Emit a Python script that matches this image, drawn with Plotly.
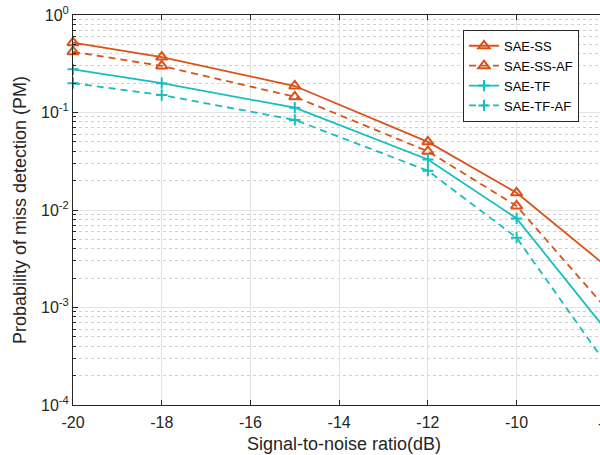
import plotly.graph_objects as go

# SNR points (dB)
snr = [-20, -18, -15, -12, -10, -8]

# Probability of miss detection for each method
pm_sae_ss = [0.52, 0.37, 0.187, 0.050, 0.0150, 0.0027]
pm_sae_ss_af = [0.42, 0.30, 0.145, 0.040, 0.0110, 0.00100]
pm_sae_tf = [0.277, 0.200, 0.112, 0.033, 0.0082, 0.00060]
pm_sae_tf_af = [0.200, 0.151, 0.084, 0.0253, 0.0052, 0.00027]

x_ticks = [-20, -18, -16, -14, -12, -10, -8]
x_ticktext = ["-20", "-18", "-16", "-14", "-12", "-10", "-8"]
y_ticks = [1e-4, 1e-3, 1e-2, 1e-1, 1e0]
y_ticktext = ["10<sup>-4</sup>", "10<sup>-3</sup>", "10<sup>-2</sup>", "10<sup>-1</sup>", "10<sup>0</sup>"]
y_minor = [m * 10 ** e for e in range(-4, 0) for m in range(2, 10)]

X_MIN, X_MAX = -20, -8.12

ORANGE = "#D95319"
CYAN = "#17BEBE"
DASH = "7px,5px"

series = [
    ("SAE-SS", pm_sae_ss, ORANGE, "solid", "triangle-up-open", 10),
    ("SAE-SS-AF", pm_sae_ss_af, ORANGE, DASH, "triangle-up-open", 10),
    ("SAE-TF", pm_sae_tf, CYAN, "solid", "cross-thin-open", 8),
    ("SAE-TF-AF", pm_sae_tf_af, CYAN, DASH, "cross-thin-open", 8),
]

fig = go.Figure()
for name, vals, color, dash, sym, size in series:
    fig.add_trace(go.Scatter(
        x=snr, y=vals, name=name, mode="lines+markers", cliponaxis=False,
        line=dict(color=color, width=1.8, dash=dash),
        marker=dict(symbol=sym, size=size, color=color, line=dict(color=color, width=2)),
    ))

fig.update_layout(
    width=600, height=455,
    margin=dict(l=73, r=0, t=15, b=50, autoexpand=False),
    paper_bgcolor="white", plot_bgcolor="white",
    font=dict(family="Liberation Sans, Arial, sans-serif", size=15, color="#262626"),
    showlegend=True,
    legend=dict(
        x=0.74, y=0.962, xanchor="left", yanchor="top",
        bgcolor="white", bordercolor="#262626", borderwidth=1,
        font=dict(size=13, color="#000000"),
        tracegroupgap=0, itemwidth=30, entrywidth=88,
    ),
    xaxis=dict(
        range=[X_MIN, X_MAX], tickmode="array", tickvals=x_ticks, ticktext=x_ticktext,
        showgrid=True, gridcolor="#e3e3e3", gridwidth=1,
        showline=True, linecolor="#262626", linewidth=1, mirror="ticks",
        ticks="inside", ticklen=5, tickcolor="#262626", ticklabelstandoff=3,
        zeroline=False,
        tickfont=dict(size=16),
    ),
    yaxis=dict(
        type="log", range=[-4, 0], tickmode="array", tickvals=y_ticks, ticktext=y_ticktext,
        showgrid=True, gridcolor="#e3e3e3", gridwidth=1,
        showline=True, linecolor="#262626", linewidth=1,
        ticks="inside", ticklen=5, tickcolor="#262626",
        zeroline=False,
        minor=dict(tickmode="array", tickvals=y_minor, ticks="inside", ticklen=3,
                   tickcolor="#262626", showgrid=True, gridcolor="#cfcfcf", griddash="dot"),
        title=dict(text="Probability of miss detection (PM)", font=dict(size=18), standoff=9),
        tickfont=dict(size=16),
    ),
)

# x-axis title, placed just under the tick labels
fig.add_annotation(
    x=0.515, y=-0.1, xref="paper", yref="paper",
    text="Signal-to-noise ratio(dB)", showarrow=False,
    xanchor="center", yanchor="middle",
    font=dict(size=18, color="#262626"),
)

# tick label of the -8 dB gridline that sits at the right edge
fig.add_annotation(
    x=(-8 - X_MIN) / (X_MAX - X_MIN), y=0, xref="paper", yref="paper",
    text="-8", showarrow=False, xanchor="center", yanchor="top", yshift=-8,
    font=dict(size=16, color="#262626"),
)

fig.write_html("out.html")
